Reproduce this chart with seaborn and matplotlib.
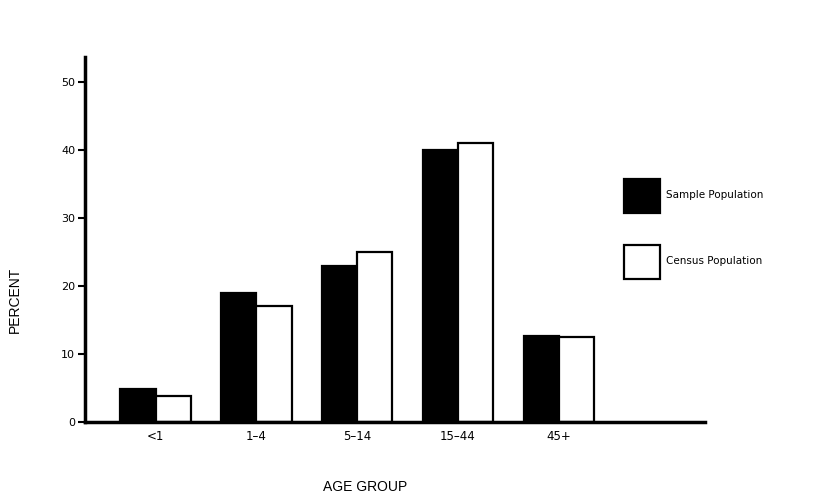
import matplotlib
matplotlib.use("Agg")
import matplotlib.pyplot as plt
import seaborn as sns
import pandas as pd

age_groups = ["<1", "1–4", "5–14", "15–44", "45+"]
sample_pct = [4.8, 19.0, 23.0, 40.0, 12.6]
census_pct = [3.8, 17.0, 25.0, 41.0, 12.5]
series_names = ["Sample Population", "Census Population"]
y_ticks = [0, 10, 20, 30, 40, 50]

df = pd.DataFrame({
    "age": age_groups * 2,
    "pct": sample_pct + census_pct,
    "series": [series_names[0]] * len(age_groups) + [series_names[1]] * len(age_groups),
})

sns.set_style("white")
plt.rcParams["font.family"] = ["DejaVu Sans"]
plt.rcParams["text.color"] = "black"
plt.rcParams["xtick.color"] = "black"
plt.rcParams["ytick.color"] = "black"
plt.rcParams["axes.labelcolor"] = "black"

fig = plt.figure(figsize=(8.22, 4.96), dpi=100)
ax = fig.add_axes([85 / 822, 1 - 422 / 496, 620 / 822, (422 - 57) / 496])

sns.barplot(data=df, x="age", y="pct", hue="series", order=age_groups,
            hue_order=series_names,
            palette={series_names[0]: "black", series_names[1]: "white"},
            edgecolor="black", linewidth=1.6, width=0.7, saturation=1,
            errorbar=None, ax=ax)

ax.set_xlim(-0.7, 5.45)
ax.set_ylim(0, 53.7)
ax.set_yticks(y_ticks)
ax.set_yticklabels([str(t) for t in y_ticks], fontsize=8)
ax.tick_params(axis="y", direction="out", length=5, width=1.5, pad=2, left=True)
ax.tick_params(axis="x", length=0, pad=6, labelsize=8.5)

for s in ["top", "right"]:
    ax.spines[s].set_visible(False)
for s in ["left", "bottom"]:
    ax.spines[s].set_linewidth(2.5)
    ax.spines[s].set_color("black")

ax.set_xlabel("")
ax.set_ylabel("")
fig.text(15 / 822, 1 - 300 / 496, "PERCENT", rotation=90, ha="center", va="center",
         fontsize=10, family=["Liberation Sans"])
fig.text(365 / 822, 1 - 487 / 496, "AGE GROUP", ha="center", va="center",
         fontsize=10, family=["Liberation Sans"])

leg = ax.legend(loc="upper left", bbox_to_anchor=(624 / 822, 1 - 179 / 496),
                bbox_transform=fig.transFigure, frameon=False, fontsize=7.5,
                handlelength=3.5, handleheight=4.6, labelspacing=3.1,
                handletextpad=0.5, borderpad=0, borderaxespad=0)

fig.savefig("out.png", dpi=100, facecolor="white")
